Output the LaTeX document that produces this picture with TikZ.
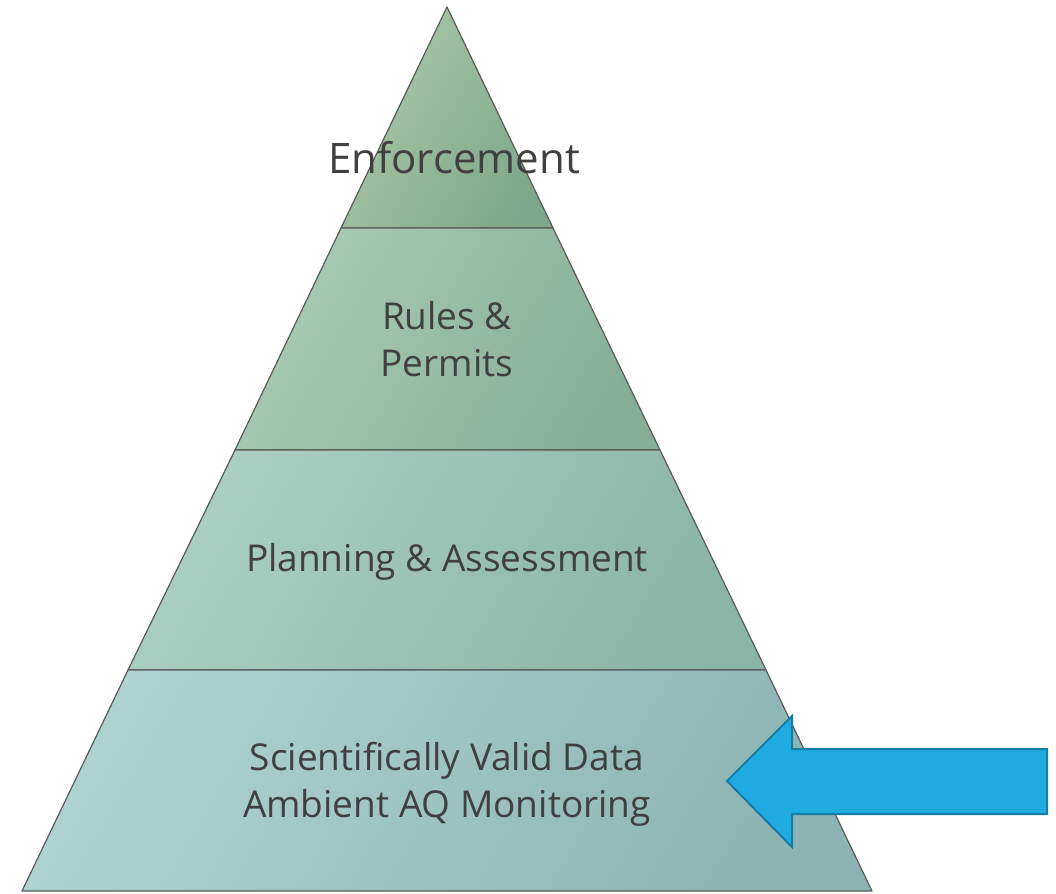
\documentclass[tikz,border=0pt]{standalone}
\usepackage{fontspec}
\setmainfont{Open Sans}[Ligatures=NoCommon]
\begin{document}
\begin{tikzpicture}[x=1pt,y=-1pt,
  layer/.style={draw=black!65,line width=1.2pt,line join=round},
  lbl/.style={text=black!75,font=\fontsize{37}{47}\selectfont,align=center,inner sep=0pt}]
\definecolor{l1a}{HTML}{AAC8A9}\definecolor{l1b}{HTML}{7EA889}
\definecolor{l2a}{HTML}{A9CBB3}\definecolor{l2b}{HTML}{86AE97}
\definecolor{l3a}{HTML}{AACFC2}\definecolor{l3b}{HTML}{8BB5A6}
\definecolor{l4a}{HTML}{AED2CF}\definecolor{l4b}{HTML}{8DB4B3}
\definecolor{arrfill}{HTML}{1FABE2}\definecolor{arrline}{HTML}{167EA6}
\useasboundingbox (0,0) rectangle (1056,893);
\coordinate (apex) at (447,7);
\coordinate (a1l) at (341,228); \coordinate (a1r) at (553,228);
\coordinate (a2l) at (235,450); \coordinate (a2r) at (660,450);
\coordinate (a3l) at (128,670); \coordinate (a3r) at (766,670);
\coordinate (bl) at (22,891); \coordinate (br) at (872,891);
\path[layer,left color=l1a,right color=l1b,shading angle=60] (apex) -- (a1r) -- (a1l) -- cycle;
\path[layer,left color=l2a,right color=l2b,shading angle=60] (a1l) -- (a1r) -- (a2r) -- (a2l) -- cycle;
\path[layer,left color=l3a,right color=l3b,shading angle=60] (a2l) -- (a2r) -- (a3r) -- (a3l) -- cycle;
\path[layer,left color=l4a,right color=l4b,shading angle=60] (a3l) -- (a3r) -- (br) -- (bl) -- cycle;
\node[lbl,font=\fontsize{42}{48}\selectfont] (t1) at (454,158) {Enforcement};
\node[lbl] (t2) at (447,339) {Rules \&\\Permits};
\node[lbl] (t3) at (447,562) {Planning \& Assessment};
\node[lbl] (t4) at (447,784) {Scientifically Valid Data\\Ambient AQ Monitoring};
\draw[fill=arrfill,draw=arrline,line width=2pt] (727,781) -- (792,716) -- (792,749) -- (1047,749) -- (1047,814) -- (792,814) -- (792,847) -- cycle;
\end{tikzpicture}
\end{document}
